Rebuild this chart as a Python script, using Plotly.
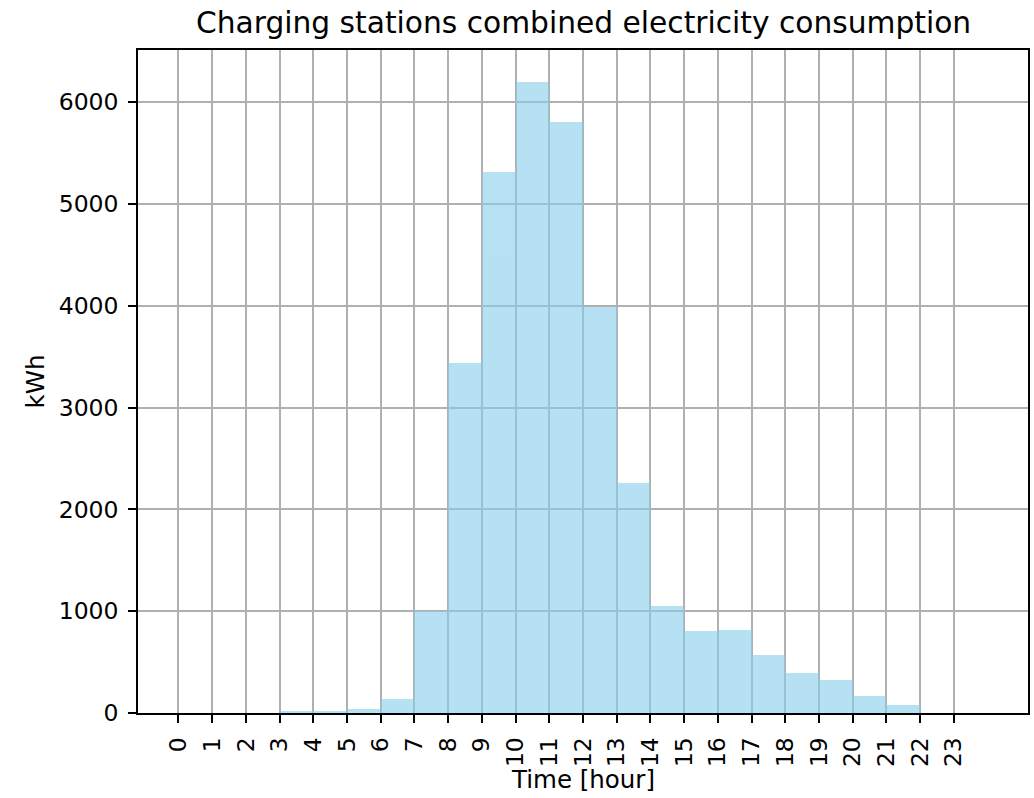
import plotly.graph_objects as go

# Hourly combined consumption of the charging stations (kWh)
hours = list(range(24))
hour_labels = [str(h) for h in hours]
consumption_kwh = [0, 0, 0, 12, 20, 36, 141, 1000, 3440, 5317, 6203, 5808,
                   3985, 2262, 1047, 802, 818, 566, 393, 327, 163, 75, 0, 0]
y_ticks = [0, 1000, 2000, 3000, 4000, 5000, 6000]

FONT = "DejaVu Sans"
W, H = 1034, 798
L, R, T, B = 138, 4, 50, 85

fig = go.Figure()
fig.add_trace(go.Bar(
    x=hours,
    y=consumption_kwh,
    offset=0,
    width=1,
    marker=dict(color="skyblue", line=dict(width=0)),
    opacity=0.6,
    showlegend=False,
))

axis_common = dict(
    showline=True, mirror=True, linecolor="black", linewidth=1.6,
    showgrid=True, gridcolor="#b0b0b0", gridwidth=1.6,
    ticks="outside", ticklen=8, tickwidth=1.6, tickcolor="black",
    ticklabelstandoff=5,
    tickfont=dict(family=FONT, size=23.5, color="black"),
    zeroline=False,
)

fig.update_layout(
    width=W, height=H,
    margin=dict(l=L, r=R, t=T, b=B, pad=0),
    paper_bgcolor="white", plot_bgcolor="white",
    font=dict(family=FONT, color="black"),
    bargap=0,
    xaxis=dict(
        range=[-1.2, 25.2],
        tickmode="array", tickvals=hours, ticktext=hour_labels,
        tickangle=-90,
        **axis_common,
    ),
    yaxis=dict(
        range=[0, 6513],
        tickmode="array", tickvals=y_ticks, ticktext=[str(v) for v in y_ticks],
        **axis_common,
    ),
    annotations=[
        dict(text="Charging stations combined electricity consumption",
             xref="paper", yref="paper", x=0.5, y=1, yshift=28,
             xanchor="center", yanchor="middle", showarrow=False,
             font=dict(family=FONT, size=29.7, color="black")),
        dict(text="Time [hour]", xref="paper", yref="paper", x=0.5, y=0,
             yshift=-66, xanchor="center", yanchor="middle", showarrow=False,
             font=dict(family=FONT, size=24.5, color="black")),
        dict(text="kWh", xref="paper", yref="paper", x=0, y=0.5,
             xshift=-103, xanchor="center", yanchor="middle", textangle=-90,
             showarrow=False, font=dict(family=FONT, size=24.5, color="black")),
    ],
)

fig.write_html("out.html")
